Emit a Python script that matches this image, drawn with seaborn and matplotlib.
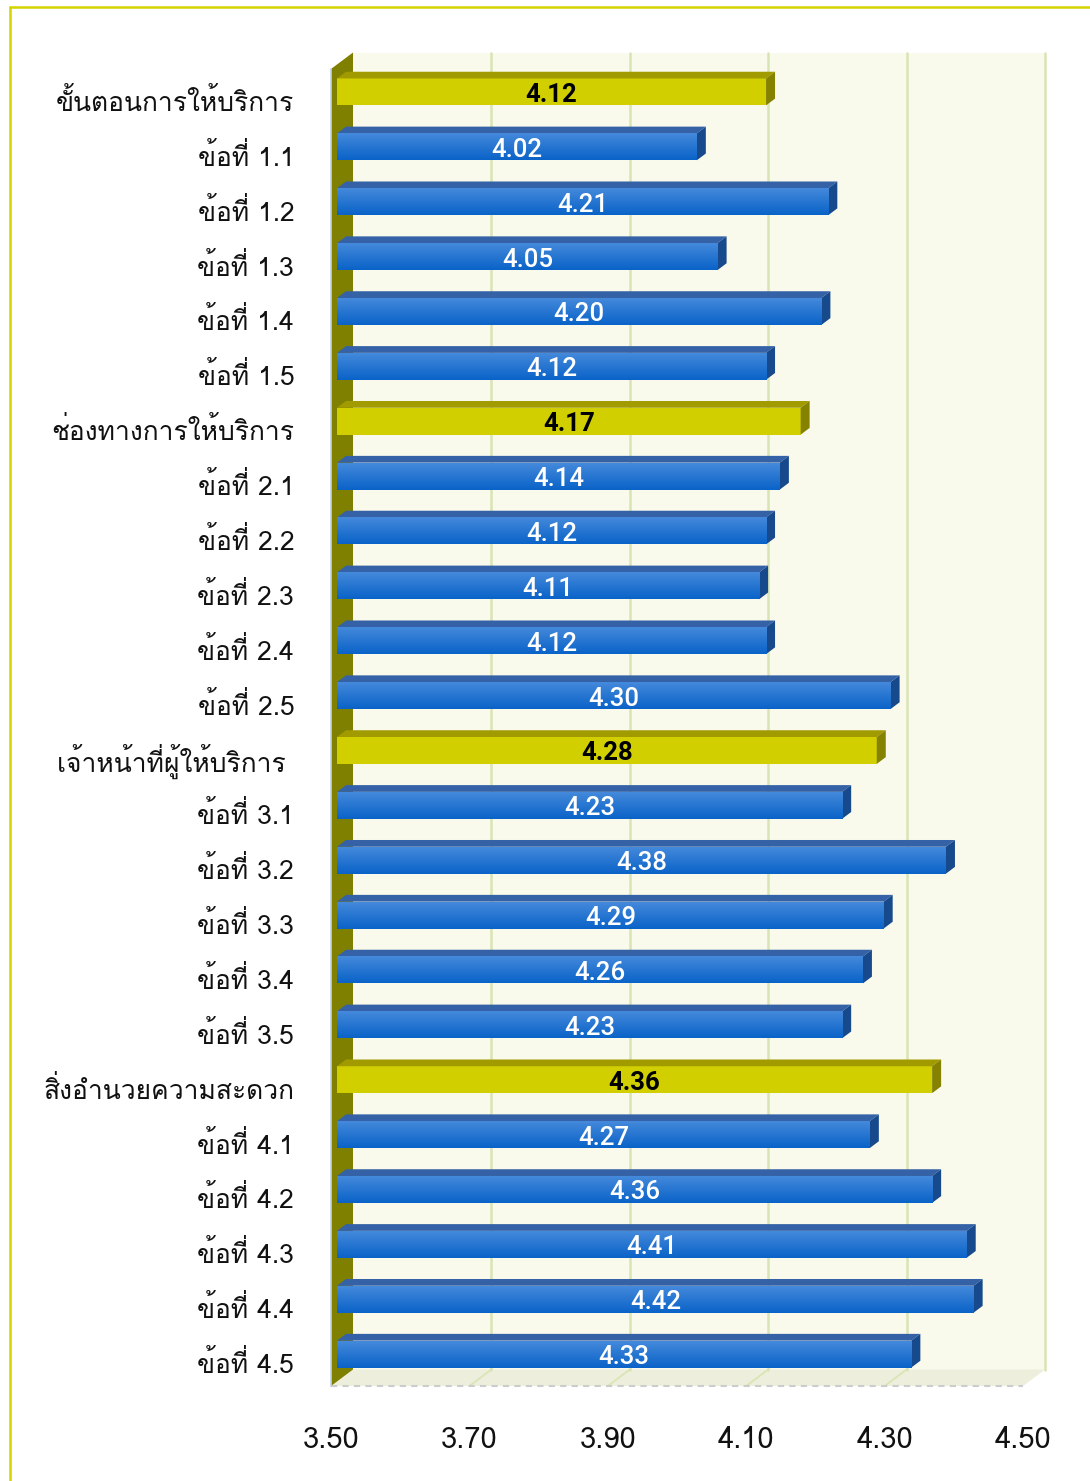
import numpy as np
import matplotlib
matplotlib.use("Agg")
import matplotlib.pyplot as plt
import seaborn as sns
from matplotlib.patches import Polygon
from matplotlib.lines import Line2D
from matplotlib.colors import LinearSegmentedColormap
from matplotlib.transforms import ScaledTranslation

# ข้อมูล
labels = ["ขั้นตอนการให้บริการ", "ข้อที่ 1.1", "ข้อที่ 1.2", "ข้อที่ 1.3", "ข้อที่ 1.4", "ข้อที่ 1.5",
          "ช่องทางการให้บริการ", "ข้อที่ 2.1", "ข้อที่ 2.2", "ข้อที่ 2.3", "ข้อที่ 2.4", "ข้อที่ 2.5",
          "เจ้าหน้าที่ผู้ให้บริการ ", "ข้อที่ 3.1", "ข้อที่ 3.2", "ข้อที่ 3.3", "ข้อที่ 3.4", "ข้อที่ 3.5",
          "สิ่งอำนวยความสะดวก", "ข้อที่ 4.1", "ข้อที่ 4.2", "ข้อที่ 4.3", "ข้อที่ 4.4", "ข้อที่ 4.5"]
values = [4.12, 4.02, 4.21, 4.05, 4.20, 4.12,
          4.17, 4.14, 4.12, 4.11, 4.12, 4.30,
          4.28, 4.23, 4.38, 4.29, 4.26, 4.23,
          4.36, 4.27, 4.36, 4.41, 4.42, 4.33]
grupo = [True, False, False, False, False, False] * 4
ticks = [3.50, 3.70, 3.90, 4.10, 4.30, 4.50]

thai = ["Loma", "DejaVu Sans"]
num_font = ["Roboto", "DejaVu Sans"]

sns.set_theme(style="white")
plt.rcParams["font.family"] = thai

W, H = 1090, 1481
fig = plt.figure(figsize=(W / 100, H / 100), dpi=100)
ax = fig.add_axes([331 / W, 1 - 1386 / H, 692 / W, 1317 / H])
ax.set_facecolor("none")

sns.barplot(x=values, y=labels, orient="h", width=0.49, color="#0B63C8",
            errorbar=None, ax=ax)
ax.set_xlim(ticks[0], ticks[-1])
ax.set_ylim(len(labels) - 0.5, -0.5)

# profundidade 3D em unidades de dados (por pixel)
ddx = (ticks[-1] - ticks[0]) / ax.bbox.width
pxy = len(labels) / ax.bbox.height
ddy = -0.75 * pxy
y_top, y_bot = -0.5, len(labels) - 0.5


def dep(x, y, d):
    return (x + d * ddx, y + d * ddy)


def poly(pts, color, z):
    ax.add_patch(Polygon(pts, closed=True, facecolor=color, edgecolor="none",
                         zorder=z, clip_on=False))


# parede do fundo, chão e parede esquerda
poly([dep(ticks[0], y_top, 22), dep(ticks[-1], y_top, 22),
      dep(ticks[-1], y_bot, 22), dep(ticks[0], y_bot, 22)], "#F9FAEC", 0.2)
poly([dep(ticks[0], y_bot, 0), dep(ticks[0], y_bot, 22),
      dep(ticks[-1], y_bot, 22), dep(ticks[-1], y_bot, 0)], "#EDEFDC", 0.3)
for t in ticks[1:]:
    gx, gy = zip(dep(t, y_top, 22), dep(t, y_bot, 22))
    ax.plot(gx, gy, color="#D8E4B3", lw=1.8, zorder=0.5, clip_on=False)
for t in ticks[1:-1]:
    gx, gy = zip(dep(t, y_bot, 0), dep(t, y_bot, 22))
    ax.plot(gx, gy, color="#D8E4B3", lw=1.2, zorder=0.5, clip_on=False)
ax.plot([ticks[0], ticks[-1]], [y_bot, y_bot], color="#CCCCCC", lw=1.5,
        ls=(0, (3, 2.5)), zorder=0.6, clip_on=False)
poly([dep(ticks[0], y_top, 0), dep(ticks[0], y_top, 22),
      dep(ticks[0], y_bot, 22), dep(ticks[0], y_bot, 0)], "#808000", 1)
ax.plot([ticks[0], ticks[0]], [y_top, y_bot], color="#BCD2E8", lw=1.2,
        zorder=1.1, clip_on=False)

# barras 3D
blue_grad = LinearSegmentedColormap.from_list("g", ["#4489DB", "#0A63C8"])
grad = np.linspace(0, 1, 64).reshape(-1, 1)
for i, (p, v, g) in enumerate(zip(ax.patches[:len(values)], values, grupo)):
    x0, y0 = dep(ticks[0], p.get_y(), 6)
    x1 = v + 6 * ddx
    y1 = y0 + p.get_height()
    p.set_x(x0)
    p.set_y(y0)
    p.set_width(v - ticks[0])
    p.set_edgecolor("none")
    p.set_zorder(3)
    p.set_clip_on(False)
    if g:
        front, top, side = "#D1CF00", "#A19B00", "#858200"
    else:
        front, top, side = "#0A63C8", "#3562A6", "#174A8C"
        ax.imshow(grad, extent=[x0, x1, y1, y0], cmap=blue_grad, aspect="auto",
                  interpolation="bilinear", zorder=3.1)
    p.set_facecolor(front)
    poly([(x0, y0), (x1, y0), dep(x1, y0, 9), dep(x0, y0, 9)], top, 3)
    poly([(x1, y0), dep(x1, y0, 9), dep(x1, y1, 9), (x1, y1)], side, 3)
    ax.text((x0 + x1) / 2, (y0 + y1) / 2 + 3 * pxy, f"{v:.2f}", ha="center",
            va="center", fontsize=18.5, family=num_font,
            color="black" if g else "white",
            fontweight="bold" if g else "medium", zorder=4)

ax.set_xlim(ticks[0], ticks[-1])
ax.set_ylim(y_bot, y_top)
ax.set_xticks(ticks)
ax.set_xticklabels([f"{t:.2f}" for t in ticks])
ax.tick_params(axis="y", length=0, pad=26.5, labelsize=19, labelcolor="#111111")
ax.tick_params(axis="x", length=0, pad=29, labelsize=21, labelcolor="#111111")
desce = ScaledTranslation(0, -3 / 100, fig.dpi_scale_trans)
for lbl in ax.get_yticklabels():
    lbl.set_transform(lbl.get_transform() + desce)
ax.set_xlabel("")
ax.set_ylabel("")
sns.despine(ax=ax, left=True, bottom=True)

# moldura amarela
fig.add_artist(Line2D([10 / W, 10 / W], [0, 1 - 7 / H], transform=fig.transFigure,
                      color="#D4D400", lw=1.8))
fig.add_artist(Line2D([10 / W, 1], [1 - 7 / H, 1 - 7 / H], transform=fig.transFigure,
                      color="#D4D400", lw=1.8))

fig.savefig("out.png", dpi=100)
